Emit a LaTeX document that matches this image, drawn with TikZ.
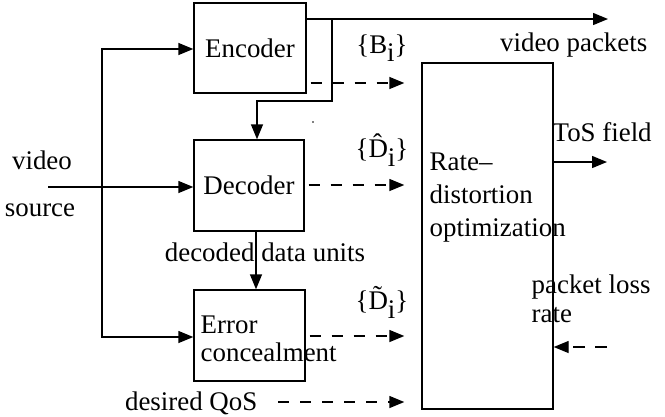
\documentclass[tikz,border=0pt]{standalone}
\usepackage{fontspec}
\setmainfont{Liberation Serif}
\usetikzlibrary{arrows.meta,calc}
\newcommand{\subi}{\raisebox{-0.32em}{i}}
\begin{document}
\begin{tikzpicture}[x=1bp,y=-1bp,
  font=\fontsize{27}{30}\selectfont,
  line width=1.4bp,
  tip/.style={-{Triangle[length=15bp,width=12bp]}},
  dash tip/.style={tip,dash pattern=on 11bp off 11bp},
  blk/.style={draw,rectangle,inner sep=0pt},
  lbl/.style={inner sep=0pt}]
\useasboundingbox (0,0) rectangle (665,416);

% processing blocks
\node[blk,minimum width=112bp,minimum height=90bp] (enc) at (250,48) {Encoder};
\node[blk,minimum width=110bp,minimum height=91bp] (dec) at (249,185.5) {Decoder};
\node[blk,minimum width=111bp,minimum height=91bp] (ec) at (249.5,335.5) {};
\node[lbl,anchor=base west] (ec1) at (200,333) {Error};
\node[lbl,anchor=base west] (ec2) at (200,361) {concealment};
\node[blk,minimum width=131bp,minimum height=346bp] (rd) at (487.5,236) {};
\node[lbl,anchor=base west] (rd1) at (429,170) {Rate--};
\node[lbl,anchor=base west] (rd2) at (429,203) {distortion};
\node[lbl,anchor=base west] (rd3) at (429,236) {optimization};

% source input and its distribution
\node[lbl] (vid) at (42,160) {video};
\node[lbl] (src) at (40,210) {source};
\coordinate (srcin) at (48,187);
\coordinate (split) at (102,187);
\draw[tip] (srcin) -- (dec.west |- srcin);
\draw[tip] (split) |- (enc.west |- 0,49);
\draw[tip] (split) |- (ec.west |- 0,337);

% encoder output: packets and feedback to the decoder
\coordinate (pkt) at (608,19);
\coordinate (tap) at (332,19);
\draw[tip] (enc.east |- pkt) -- (pkt);
\draw[tip] (tap) -- (332,101) -| (dec.north -| 257,0);
\fill (313,122) circle (0.9bp);
\node[lbl,anchor=base east] (vp) at (648,51) {video packets};

% decoder to error concealment
\draw[tip] (dec.south -| 256,0) -- (ec.north -| 256,0);
\node[lbl] (ddu) at (265,252) {decoded data units};

% side information into the optimizer
\draw[dash tip] ($(enc.east |- 0,83)+(4,0)$) -- ($(rd.west |- 0,83)+(-17,0)$);
\draw[dash tip] ($(dec.east |- 0,185)+(4,0)$) -- ($(rd.west |- 0,185)+(-17,0)$);
\draw[dash tip] ($(ec.east |- 0,336)+(4,0)$) -- ($(rd.west |- 0,336)+(-17,0)$);
\coordinate (qos) at (278,402);
\draw[dash tip] (qos) -- ($(rd.west |- qos)+(-17,0)$);
\node[lbl,anchor=base east] (qosl) at (258,410) {desired QoS};

\node[lbl] (bi) at (382,48) {\{B\subi\}};
\node[lbl] (dhat) at (382,150) {\{\^{D}\subi\}};
\node[lbl] (dtil) at (382,302) {\{\~{D}\subi\}};

% optimizer outputs and feedback
\coordinate (tos) at (607,162);
\draw[tip] (rd.east |- tos) -- (tos);
\node[lbl,anchor=base west] (tosl) at (552,141) {ToS field};
\coordinate (plr) at (607,347);
\draw[dash tip,dash pattern=on 12bp off 10bp] (plr) -- (rd.east |- plr);
\node[lbl,anchor=base west] (pl1) at (531,293) {packet loss};
\node[lbl,anchor=base west] (pl2) at (531,322) {rate};
\end{tikzpicture}
\end{document}
